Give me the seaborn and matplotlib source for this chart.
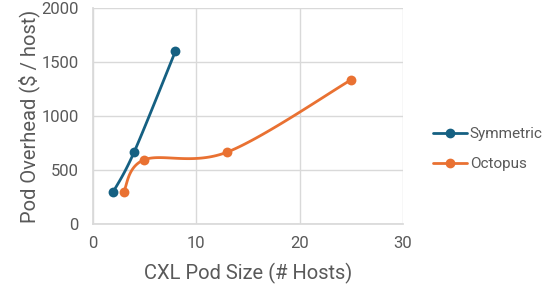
import numpy as np
import pandas as pd
import matplotlib
matplotlib.use("Agg")
import matplotlib.pyplot as plt
from matplotlib.lines import Line2D
import seaborn as sns

# dados
sym_x = [2, 4, 8]
sym_y = [300, 665, 1600]
oct_x = [3, 5, 13, 25]
oct_y = [300, 595, 665, 1335]
series_names = ["Symmetric", "Octopus"]
series_colors = ["#156082", "#E97132"]
x_ticks = [0, 10, 20, 30]
y_ticks = [0, 500, 1000, 1500, 2000]

sns.set_theme(style="white")
plt.rcParams['font.family'] = ['Roboto', 'DejaVu Sans']
gray = "#595959"

fig = plt.figure(figsize=(5.52, 2.92), dpi=100)
ax = fig.add_axes([0.168, 0.233, 0.562, 0.74])
ax.set_xlim(0, 30)
ax.set_ylim(0, 2000)


def suavizar(ax, xs, ys, n=40):
    """Curva suave estilo Excel (Bezier tipo Catmull-Rom) em coordenadas de tela."""
    pts = ax.transData.transform(np.column_stack([xs, ys]))
    out = [pts[0]]
    m = len(pts)
    for i in range(m - 1):
        p0 = pts[max(i - 1, 0)]
        p1 = pts[i]
        p2 = pts[i + 1]
        p3 = pts[min(i + 2, m - 1)]
        c1 = p1 + (p2 - p0) / 6
        c2 = p2 - (p3 - p1) / 6
        t = np.linspace(0, 1, n)[1:, None]
        seg = ((1 - t) ** 3) * p1 + 3 * ((1 - t) ** 2) * t * c1 + 3 * (1 - t) * t ** 2 * c2 + t ** 3 * p2
        out.extend(seg)
    out = ax.transData.inverted().transform(np.array(out))
    return out[:, 0], out[:, 1]


for nome, cor, xs, ys in zip(series_names, series_colors, [sym_x, oct_x], [sym_y, oct_y]):
    cx, cy = suavizar(ax, xs, ys)
    curva = pd.DataFrame({"x": cx, "y": cy})
    sns.lineplot(data=curva, x="x", y="y", sort=False, color=cor, linewidth=2, ax=ax, estimator=None)
    pontos = pd.DataFrame({"x": xs, "y": ys})
    sns.scatterplot(data=pontos, x="x", y="y", color=cor, s=50, edgecolor=cor, linewidth=0, ax=ax, zorder=3)

ax.set_xticks(x_ticks)
ax.set_yticks(y_ticks)
ax.grid(True, color="#d9d9d9", linewidth=1)
for s in ax.spines.values():
    s.set_visible(False)
ax.spines['left'].set_visible(True)
ax.spines['left'].set_color("#d9d9d9")
ax.spines['bottom'].set_visible(True)
ax.spines['bottom'].set_color("#d9d9d9")
ax.tick_params(axis='both', colors=gray, labelsize=12, length=0)
ax.tick_params(axis='y', pad=10)
ax.tick_params(axis='x', pad=9)
ax.set_xlabel("CXL Pod Size (# Hosts)", color=gray, fontsize=14.5, labelpad=8)
ax.set_ylabel("Pod Overhead ($ / host)", color=gray, fontsize=14.5, labelpad=1)

handles = [Line2D([0], [0], color=c, lw=2, marker='o', markersize=6) for c in series_colors]
fig.legend(handles, series_names, loc='center left', bbox_to_anchor=(0.76, 0.49),
           frameon=False, fontsize=11, labelcolor=gray, handlelength=2.2,
           handletextpad=0.2, labelspacing=1.05)

fig.savefig("out.png", dpi=100)
